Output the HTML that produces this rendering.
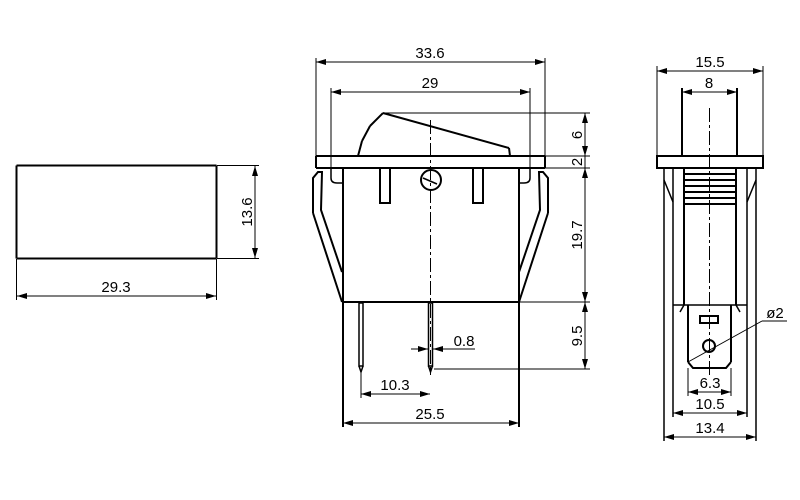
<!DOCTYPE html>
<html><head><style>html,body{margin:0;padding:0;background:#fff}svg{display:block}svg path,svg rect,svg circle,svg polyline{fill:none}</style></head><body>
<svg width="800" height="500" viewBox="0 0 800 500" xmlns="http://www.w3.org/2000/svg" font-family="Liberation Sans, sans-serif" font-size="15">
<defs>
<marker id="a" viewBox="0 0 10 6" refX="10" refY="3" markerWidth="10" markerHeight="6" orient="auto-start-reverse" markerUnits="userSpaceOnUse"><path d="M0,0 L10,3 L0,6 z" style="fill:#000"/></marker>
</defs>
<polygon points="360,155 366,130 383,114 508,149 509,155" style="fill:#fff;stroke:none"/>
<g fill="none" stroke="#000" stroke-width="1">
<line x1="16.5" y1="165.5" x2="216.5" y2="165.5" stroke-width="2"/>
<line x1="16.5" y1="258.5" x2="216.5" y2="258.5" stroke-width="2"/>
<line x1="16.5" y1="165.5" x2="16.5" y2="258.5" stroke-width="2"/>
<line x1="216.5" y1="165.5" x2="216.5" y2="258.5" stroke-width="2"/>
<line x1="217" y1="165.5" x2="259" y2="165.5"/>
<line x1="217" y1="258.5" x2="259" y2="258.5"/>
<line x1="255" y1="166" x2="255" y2="258" marker-start="url(#a)" marker-end="url(#a)"/>
<line x1="16.5" y1="259" x2="16.5" y2="300"/>
<line x1="216.5" y1="259" x2="216.5" y2="300"/>
<line x1="17" y1="296" x2="216" y2="296" marker-start="url(#a)" marker-end="url(#a)"/>

<line x1="316" y1="58" x2="316" y2="156"/>
<line x1="545" y1="58" x2="545" y2="156"/>
<line x1="316" y1="62" x2="545" y2="62" marker-start="url(#a)" marker-end="url(#a)"/>
<line x1="331" y1="88" x2="331" y2="176"/>
<line x1="530" y1="88" x2="530" y2="176"/>
<line x1="331" y1="92" x2="530" y2="92" marker-start="url(#a)" marker-end="url(#a)"/>
<line x1="316" y1="156" x2="545" y2="156" stroke-width="2"/>
<line x1="316" y1="168" x2="545" y2="168" stroke-width="2"/>
<line x1="316" y1="156" x2="316" y2="168" stroke-width="2"/>
<line x1="545" y1="156" x2="545" y2="168" stroke-width="2"/>
<line x1="358" y1="156" x2="362" y2="141" stroke-width="2"/>
<line x1="362" y1="141" x2="370" y2="126" stroke-width="2"/>
<line x1="370" y1="126" x2="383" y2="113" stroke-width="2"/>
<line x1="383" y1="113" x2="509" y2="148" stroke-width="2"/>
<line x1="509" y1="148" x2="510" y2="156" stroke-width="2"/>
<line x1="383" y1="113" x2="590" y2="113"/>
<line x1="545" y1="156" x2="590" y2="156"/>
<line x1="545" y1="168" x2="590" y2="168"/>
<line x1="519" y1="302" x2="590" y2="302"/>
<line x1="434" y1="369" x2="590" y2="369"/>
<line x1="585" y1="113" x2="585" y2="156" marker-start="url(#a)" marker-end="url(#a)"/>
<line x1="585" y1="156" x2="585" y2="168"/>
<line x1="585" y1="168" x2="585" y2="302" marker-start="url(#a)" marker-end="url(#a)"/>
<line x1="585" y1="302" x2="585" y2="369" marker-start="url(#a)" marker-end="url(#a)"/>
<path d="M331,168 L331,178 Q331,183 337,183 L343,183" stroke-width="1.5"/>
<path d="M530,168 L530,178 Q530,183 524,183 L519,183" stroke-width="1.5"/>
<line x1="343" y1="168" x2="343" y2="427" stroke-width="2"/>
<line x1="519" y1="168" x2="519" y2="427" stroke-width="2"/>
<line x1="343" y1="302" x2="519" y2="302" stroke-width="2"/>
<rect x="380" y="168" width="10" height="35" stroke-width="2"/>
<rect x="473" y="168" width="10" height="35" stroke-width="2"/>
<circle cx="431" cy="180" r="10" stroke-width="2"/>
<line x1="423" y1="178" x2="437" y2="184" stroke-width="1.5"/>
<line x1="430.5" y1="120" x2="430.5" y2="375" stroke-dasharray="14,3,3,3"/>
<path d="M313,213 L313,178 L318,172 L322,172 L321,210 L342,272 M313,213 L342,302" stroke-width="2"/>
<path d="M548,213 L548,178 L543,172 L539,172 L540,210 L519,272 M548,213 L519,302" stroke-width="2"/>
<rect x="359" y="303" width="4" height="63" stroke-width="1.5"/>
<path d="M359,366 L361,372 L363,366" stroke-width="1.5"/>
<rect x="428.5" y="303" width="4" height="63" stroke-width="1.5"/>
<path d="M428.5,366 L430.5,372 L432.5,366" stroke-width="1.5"/>
<line x1="361" y1="372" x2="361" y2="398"/>
<line x1="361" y1="394" x2="430" y2="394" marker-start="url(#a)" marker-end="url(#a)"/>
<line x1="411" y1="349" x2="428" y2="349" marker-end="url(#a)"/>
<line x1="475" y1="349" x2="433" y2="349" marker-end="url(#a)"/>
<line x1="343" y1="423" x2="519" y2="423" marker-start="url(#a)" marker-end="url(#a)"/>

<line x1="657" y1="66" x2="657" y2="156"/>
<line x1="763" y1="66" x2="763" y2="156"/>
<line x1="657" y1="71" x2="763" y2="71" marker-start="url(#a)" marker-end="url(#a)"/>
<line x1="682" y1="88" x2="682" y2="156" stroke-width="2"/>
<line x1="737" y1="88" x2="737" y2="156" stroke-width="2"/>
<line x1="682" y1="92" x2="737" y2="92" marker-start="url(#a)" marker-end="url(#a)"/>
<rect x="657" y="156" width="106" height="12" stroke-width="2"/>
<line x1="709.5" y1="108" x2="709.5" y2="375" stroke-dasharray="14,3,3,3"/>
<line x1="664" y1="168" x2="664" y2="441" stroke-width="1.5"/>
<line x1="756" y1="168" x2="756" y2="441" stroke-width="1.5"/>
<line x1="673" y1="168" x2="673" y2="417" stroke-width="1.5"/>
<line x1="747" y1="168" x2="747" y2="417" stroke-width="1.5"/>
<line x1="684" y1="168" x2="684" y2="305" stroke-width="2"/>
<line x1="736" y1="168" x2="736" y2="305" stroke-width="2"/>
<path d="M664,180 L673,202 M756,180 L747,202" stroke-width="1.5"/>
<g stroke-width="2"><line x1="684" y1="174" x2="736" y2="174"/><line x1="684" y1="180" x2="736" y2="180"/><line x1="684" y1="186" x2="736" y2="186"/><line x1="684" y1="192" x2="736" y2="192"/><line x1="684" y1="198" x2="736" y2="198"/><line x1="684" y1="204" x2="736" y2="204"/></g>
<line x1="673" y1="305" x2="747" y2="305" stroke-width="1.5"/>
<path d="M680,312 L684,305 M740,312 L736,305" stroke-width="1.5"/>
<path d="M688,305 L688,362 M731,305 L731,362 M688,362 L693,368 L726,368 L731,362" stroke-width="2"/>
<rect x="700" y="316" width="18" height="7" stroke-width="2"/>
<circle cx="709" cy="346" r="6" stroke-width="2"/>
<line x1="688" y1="362" x2="762" y2="321"/>
<line x1="762" y1="321" x2="787" y2="321"/>
<line x1="688" y1="368" x2="688" y2="396"/>
<line x1="731" y1="368" x2="731" y2="396"/>
<line x1="688" y1="392" x2="731" y2="392" marker-start="url(#a)" marker-end="url(#a)"/>
<line x1="673" y1="413" x2="747" y2="413" marker-start="url(#a)" marker-end="url(#a)"/>
<line x1="664" y1="437" x2="756" y2="437" marker-start="url(#a)" marker-end="url(#a)"/>
</g>
<g fill="#000">
<text x="116" y="292" text-anchor="middle">29.3</text>
<text transform="translate(252,212) rotate(-90)" text-anchor="middle">13.6</text>
<text x="430" y="58" text-anchor="middle">33.6</text>
<text x="430" y="88" text-anchor="middle">29</text>
<text transform="translate(582,135) rotate(-90)" text-anchor="middle">6</text>
<text transform="translate(582,162) rotate(-90)" text-anchor="middle">2</text>
<text transform="translate(582,235) rotate(-90)" text-anchor="middle">19.7</text>
<text transform="translate(582,336) rotate(-90)" text-anchor="middle">9.5</text>
<text x="464" y="346" text-anchor="middle">0.8</text>
<text x="395" y="390" text-anchor="middle">10.3</text>
<text x="430" y="419" text-anchor="middle">25.5</text>
<text x="710" y="67" text-anchor="middle">15.5</text>
<text x="709" y="88" text-anchor="middle">8</text>
<text x="775" y="318" text-anchor="middle">ø2</text>
<text x="710" y="388" text-anchor="middle">6.3</text>
<text x="710" y="409" text-anchor="middle">10.5</text>
<text x="710" y="433" text-anchor="middle">13.4</text>
</g>
</svg>
</body></html>
